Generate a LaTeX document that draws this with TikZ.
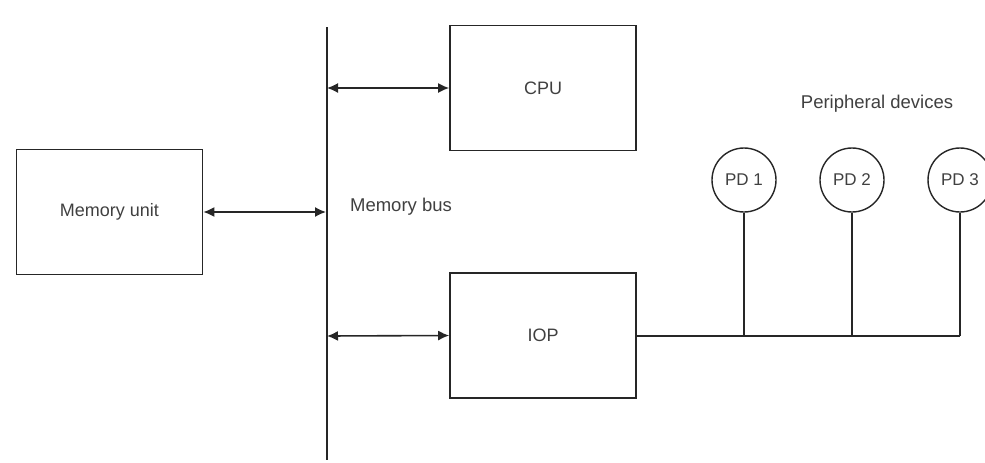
\documentclass[tikz,border=0pt]{standalone}
\usepackage{fontspec}
\setmainfont{Liberation Sans}
\usetikzlibrary{arrows.meta}
\begin{document}
\begin{tikzpicture}[x=1pt,y=-1pt,
  box/.style={draw=black!85, line width=1.6pt, minimum width=186pt, minimum height=125pt, inner sep=0pt, font=\fontsize{18}{21}\selectfont, text=black!75},
  pd/.style={circle, draw=black!85, line width=1.4pt, minimum size=64pt, inner sep=0pt, font=\fontsize{17}{20}\selectfont, text=black!75},
  lbl/.style={font=\fontsize{18.5}{21}\selectfont, text=black!75, inner sep=0pt},
  wire/.style={draw=black!85, line width=1.6pt},
  biarrow/.style={wire, {Latex[length=11pt,width=10pt]}-{Latex[length=11pt,width=10pt]}}]
\useasboundingbox (0,0) rectangle (985,463);
\node[box] (mem) at (109.5,212) {Memory unit};
\node[box] (cpu) at (543,88) {CPU};
\node[box] (iop) at (543,335.5) {IOP};
\coordinate (bustop) at (327,27);
\coordinate (busbot) at (327,460);
\draw[wire] (bustop) -- (busbot);
\coordinate (bcpu) at (327,88);
\coordinate (bmem) at (326,212);
\coordinate (biop) at (327,336);
\draw[biarrow] (bcpu) -- (cpu.west);
\draw[biarrow] (mem.east) -- (bmem);
\draw[biarrow] (biop) -- (iop.west);
\node[lbl] (buslbl) at (401,207) {Memory bus};
\node[lbl] (periph) at (877,104) {Peripheral devices};
\node[pd] (pd1) at (744,180) {PD 1};
\node[pd] (pd2) at (852,180) {PD 2};
\node[pd] (pd3) at (960,180) {PD 3};
\coordinate (j1) at (744,336);
\coordinate (j2) at (852,336);
\coordinate (j3) at (960,336);
\draw[wire] (iop.east |- j1) -- (j3);
\draw[wire] (pd1.south) -- (j1);
\draw[wire] (pd2.south) -- (j2);
\draw[wire] (pd3.south) -- (j3);
\end{tikzpicture}
\end{document}
